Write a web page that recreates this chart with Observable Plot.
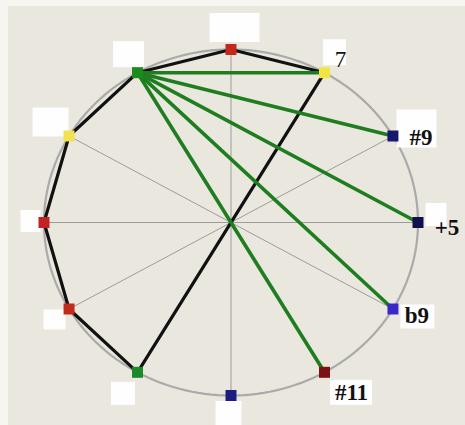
<!DOCTYPE html>
<html>
<head>
<meta charset="utf-8">
<script src="https://cdn.jsdelivr.net/npm/d3@7"></script>
<script src="https://cdn.jsdelivr.net/npm/@observablehq/plot@0.6"></script>
<style>
  html, body { margin: 0; padding: 0; background: #f6f5f0; }
  #chart svg { display: block; }
</style>
</head>
<body>
<div id="chart"></div>
<script>
// ---- data ----
// 12 positions on the chromatic circle, clockwise from the top (0 = 12 o'clock)
const positions = [0, 1, 2, 3, 4, 5, 6, 7, 8, 9, 10, 11];
const labels = ["", "7", "#9", "+5", "b9", "#11", "", "", "", "", "", ""];
const polygonPath = [1, 0, 11, 10, 9, 8, 7, 1];
const greenSource = 11;
const greenTargets = [1, 2, 3, 4, 5];

// ---- layout (pixels) ----
const W = 465, H = 425;
const CX = 230.5, CY = 222, RX = 187, RY = 173;
const pointColors = ["#c3281f", "#f2e441", "#17176b", "#0f0f4f", "#3b27c9", "#7c1212",
                     "#1b1b80", "#1d8a2a", "#c22a1a", "#c42222", "#f2e24f", "#1c8a1c"];
// white label boxes, relative to each point: [left, top, right, bottom] in px
const boxes = [[-21,-36,29,-7],[-1,-33,22,-7],[4,-26,44,12],[8,-19,29,4],[8,-4,42,20],[6,8,48,33],
               [-15,6,11,30],[-26,10,-2,33],[-25,1,-3,21],[-23,-12,-3,10],[-36,-28,0,1],[-24,-31,7,-5]];
const labelOffsets = [[0,0],[16,-13],[28,2],[29,5],[24,7],[27,20],[0,0],[0,0],[0,0],[0,0],[0,0],[0,0]];

// unit-circle coordinates of a clock position
const ux = i => Math.sin(i * Math.PI / 6);
const uy = i => Math.cos(i * Math.PI / 6);

const pts = positions.map(i => ({i, x: ux(i), y: uy(i), label: labels[i]}));
const polygon = polygonPath.map(i => pts[i]);
const greenLinks = greenTargets.map(t => ({a: pts[greenSource], b: pts[t]}));
const spokes = positions.slice(0, 6).map(i => ({a: pts[i], b: pts[i + 6]}));
const ring = d3.range(0, 361, 2).map(a => ({x: Math.cos(a * Math.PI / 180), y: Math.sin(a * Math.PI / 180)}));

const textOpts = {
  x: d => d.x + labelOffsets[d.i][0] / RX, y: d => d.y - labelOffsets[d.i][1] / RY,
  text: "label", fontFamily: "Liberation Serif, Times New Roman, serif",
  fontSize: 23, fill: "#111111", textAnchor: "middle"
};

const chart = Plot.plot({
  width: W,
  height: H,
  margin: 0,
  x: {domain: [-CX / RX, (W - CX) / RX], axis: null},
  y: {domain: [-(H - CY) / RY, CY / RY], axis: null},
  color: {type: "ordinal", domain: positions, range: pointColors},
  style: {background: "#eae7de", boxShadow: "inset 8px 6px 0 #f6f5f0"},
  marks: [
    // circle
    Plot.line(ring, {x: "x", y: "y", stroke: "#aaaaaa", strokeWidth: 2.2, curve: "linear-closed"}),
    // spokes
    Plot.link(spokes, {x1: d => d.a.x, y1: d => d.a.y, x2: d => d.b.x, y2: d => d.b.y,
      stroke: "#9c9c9c", strokeWidth: 1}),
    // white label boxes
    Plot.rect(pts, {
      x1: d => d.x + boxes[d.i][0] / RX, x2: d => d.x + boxes[d.i][2] / RX,
      y1: d => d.y - boxes[d.i][1] / RY, y2: d => d.y - boxes[d.i][3] / RY,
      fill: "#ffffff", fillOpacity: 0.95
    }),
    // black polygon
    Plot.line(polygon, {x: "x", y: "y", stroke: "#111111", strokeWidth: 3.2, strokeLinejoin: "round"}),
    // green links
    Plot.link(greenLinks, {x1: d => d.a.x, y1: d => d.a.y, x2: d => d.b.x, y2: d => d.b.y,
      stroke: "#1e7d1e", strokeWidth: 3.6}),
    // note squares
    Plot.dot(pts, {x: "x", y: "y", symbol: "square", r: 6.2, fill: d => d.i, stroke: "none"}),
    // labels
    Plot.text(pts.filter(d => d.label === "7"), {...textOpts, fontWeight: "normal"}),
    Plot.text(pts.filter(d => d.label && d.label !== "7"), {...textOpts, fontWeight: "bold"})
  ]
});
document.getElementById("chart").append(chart);
</script>
</body>
</html>
